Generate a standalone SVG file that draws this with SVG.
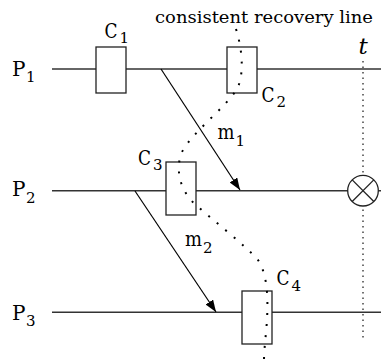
<svg xmlns="http://www.w3.org/2000/svg" width="381" height="363" viewBox="0 0 381 363">
<style>
.proc{stroke:#333;stroke-width:1.5;fill:none}
.msg{stroke:#000;stroke-width:1.2;fill:none}
.box{stroke:#222;stroke-width:1.3;fill:#fff}
.dot{stroke:#000;stroke-width:2;fill:none;stroke-dasharray:2 9}
.vdot{stroke:#444;stroke-width:1.5;fill:none;stroke-dasharray:1.5 4}
text{font-family:'DejaVu Serif',serif;fill:#000}
.lbl{font-size:20px}
.sub{font-size:15px}
</style>
<defs>
<marker id="arr" markerUnits="userSpaceOnUse" markerWidth="13" markerHeight="10" refX="12" refY="4.5" orient="auto">
<path d="M0,0 L12,4.5 L0,9 z" fill="#000"/>
</marker>
</defs>
<rect width="381" height="363" fill="#fff"/>
<g id="processes">
<line class="proc" x1="52" y1="69" x2="381" y2="69"/>
<line class="proc" x1="52" y1="190.7" x2="381" y2="190.7"/>
<line class="proc" x1="52" y1="312.3" x2="381" y2="312.3"/>
<text class="lbl" x="12" y="76">P</text><text class="sub" x="26" y="82">1</text>
<text class="lbl" x="12" y="196">P</text><text class="sub" x="26" y="203">2</text>
<text class="lbl" x="12" y="320">P</text><text class="sub" x="26" y="326">3</text>
</g>
<g id="time-t">
<line class="vdot" x1="363" y1="61" x2="363" y2="340"/>
<text x="363" y="54" text-anchor="middle" font-size="23" font-style="italic">t</text>
</g>
<g id="C1">
<rect class="box" x="96" y="47" width="30" height="46"/>
<text class="lbl" x="104.5" y="37.5" textLength="13" lengthAdjust="spacingAndGlyphs">C</text><text class="sub" x="119.5" y="43">1</text>
</g>
<g id="C2">
<rect class="box" x="227" y="47" width="30" height="46"/>
<text class="lbl" x="261.5" y="101.5" textLength="13" lengthAdjust="spacingAndGlyphs">C</text><text class="sub" x="276.5" y="107">2</text>
</g>
<g id="C3">
<rect class="box" x="166" y="162" width="30" height="53"/>
<text class="lbl" x="138" y="165" textLength="13" lengthAdjust="spacingAndGlyphs">C</text><text class="sub" x="153" y="170">3</text>
</g>
<g id="C4">
<rect class="box" x="242" y="291" width="30" height="53"/>
<text class="lbl" x="276.5" y="284.5" textLength="13" lengthAdjust="spacingAndGlyphs">C</text><text class="sub" x="291.5" y="290.5">4</text>
</g>
<g id="failure">
<circle cx="363" cy="190.7" r="15.3" fill="#fff" stroke="#222" stroke-width="1.3"/>
<line x1="352.2" y1="179.9" x2="373.8" y2="201.5" stroke="#222" stroke-width="1.3"/>
<line x1="373.8" y1="179.9" x2="352.2" y2="201.5" stroke="#222" stroke-width="1.3"/>
</g>
<g id="connectors">
<line class="msg" x1="161" y1="69" x2="240" y2="190" marker-end="url(#arr)"/>
<line class="msg" x1="135" y1="191" x2="216" y2="312" marker-end="url(#arr)"/>
<text class="lbl" x="217.5" y="139" textLength="17" lengthAdjust="spacingAndGlyphs">m</text><text class="sub" x="235.5" y="146">1</text>
<text class="lbl" x="185" y="246" textLength="17" lengthAdjust="spacingAndGlyphs">m</text><text class="sub" x="203" y="253">2</text>
</g>
<g id="recovery-line">
<path class="dot" d="M236,29 C244,55 243,78 237,89 C225,108 195,130 183,150 C175,165 178,190 196,205 C215,222 245,245 258,260 C268,275 268,300 267,320 C266,335 264,350 264,360"/>
<text x="155" y="23" font-size="17" textLength="218" lengthAdjust="spacingAndGlyphs">consistent recovery line</text>
</g>
</svg>
